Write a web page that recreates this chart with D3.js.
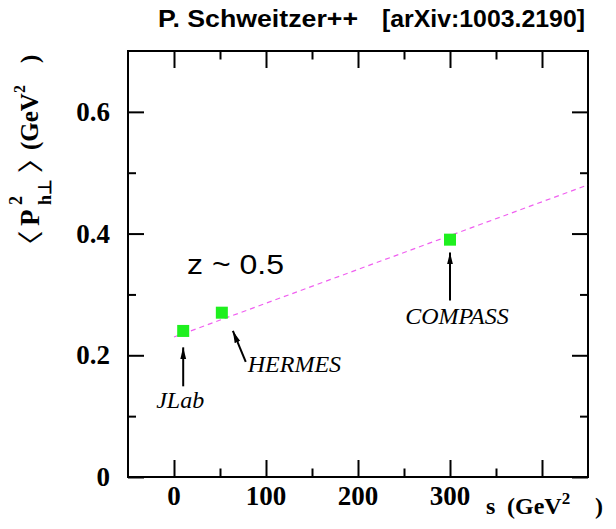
<!DOCTYPE html>
<html>
<head>
<meta charset="utf-8">
<script src="https://cdn.jsdelivr.net/npm/d3@7"></script>
<style>
  body { margin: 0; background: #fff; }
  svg { display: block; }
</style>
</head>
<body>
<svg id="chart" width="616" height="529"></svg>
<script>
// Mean hadron transverse momentum squared vs. centre-of-mass energy squared
const experiments = ["JLab", "HERMES", "COMPASS"];
const sValues = [10, 52, 300];          // s (GeV^2)
const ptValues = [0.24, 0.27, 0.39];    // <P_hT^2> (GeV^2)

// straight-line trend through the three points
const fitS = [0, 450];
const fitPt = [0.23, 0.48];

// axis ticks
const xMajorTicks = [0, 100, 200, 300, 400];
const xMinorTicks = [50, 150, 250, 350];
const xTickLabels = [0, 100, 200, 300];
const yMajorTicks = [0, 0.2, 0.4, 0.6];
const yMinorTicks = [0.1, 0.3, 0.5];
const yTickLabels = ["0", "0.2", "0.4", "0.6"];

// arrow annotations in data units: tail -> tip
const arrowTail = [[10, 0.149], [78, 0.189], [300, 0.290]];
const arrowTip  = [[10, 0.213], [64, 0.240], [300, 0.369]];

const svg = d3.select("#chart");
const frame = { left: 128, right: 588, top: 51, bottom: 477 };

const x = d3.scaleLinear().domain([-50, 450]).range([frame.left, frame.right]);
const y = d3.scaleLinear().domain([0, 0.7]).range([frame.bottom, frame.top]);

const serif = "'Liberation Serif', 'Times New Roman', serif";
const sans = "'Liberation Sans', Arial, Helvetica, sans-serif";

// ---- tick marks on all four sides (pointing inward) ----
function tickAxis(axis, transform) {
  const g = svg.append("g").attr("transform", transform).call(axis);
  g.select(".domain").remove();
  g.selectAll(".tick line").attr("stroke", "#000").attr("stroke-width", 2);
  g.selectAll(".tick text").remove();
  return g;
}
tickAxis(d3.axisBottom(x).tickValues(xMajorTicks).tickSize(-17), `translate(0,${frame.bottom})`);
tickAxis(d3.axisBottom(x).tickValues(xMinorTicks).tickSize(-8.5), `translate(0,${frame.bottom})`);
tickAxis(d3.axisTop(x).tickValues(xMajorTicks).tickSize(-17), `translate(0,${frame.top})`);
tickAxis(d3.axisTop(x).tickValues(xMinorTicks).tickSize(-8.5), `translate(0,${frame.top})`);
tickAxis(d3.axisLeft(y).tickValues(yMajorTicks).tickSize(-16), `translate(${frame.left},0)`);
tickAxis(d3.axisLeft(y).tickValues(yMinorTicks).tickSize(-8), `translate(${frame.left},0)`);
tickAxis(d3.axisRight(y).tickValues(yMajorTicks).tickSize(-16), `translate(${frame.right},0)`);
tickAxis(d3.axisRight(y).tickValues(yMinorTicks).tickSize(-8), `translate(${frame.right},0)`);

// ---- frame ----
svg.append("rect")
  .attr("x", frame.left).attr("y", frame.top)
  .attr("width", frame.right - frame.left).attr("height", frame.bottom - frame.top)
  .attr("fill", "none").attr("stroke", "#000").attr("stroke-width", 2);

// ---- tick labels ----
svg.append("g").selectAll("text")
  .data(xTickLabels).join("text")
  .attr("x", d => x(d)).attr("y", 505)
  .attr("text-anchor", "middle")
  .attr("font-family", serif).attr("font-weight", "bold").attr("font-size", 27)
  .text(d => d);

svg.append("g").selectAll("text")
  .data(yMajorTicks).join("text")
  .attr("x", 110).attr("y", d => y(d) + 9)
  .attr("text-anchor", "end")
  .attr("font-family", serif).attr("font-weight", "bold").attr("font-size", 27)
  .text((d, i) => yTickLabels[i]);

// ---- x axis title ----
const xt = svg.append("text")
  .attr("font-family", serif).attr("font-weight", "bold").attr("font-size", 24)
  .attr("y", 514);
xt.append("tspan").attr("x", 486).text("s");
xt.append("tspan").attr("x", 507).text("(GeV");
xt.append("tspan").attr("dy", -10).attr("font-size", 17).text("2");
xt.append("tspan").attr("x", 595).attr("dy", 10).text(")");

// ---- y axis title (reads bottom to top) ----
const yt = svg.append("text")
  .attr("transform", "rotate(-90)")
  .attr("font-family", serif).attr("font-weight", "bold");
yt.append("tspan").attr("x", -226).attr("y", 38.5).attr("font-size", 27).text("P");
yt.append("tspan").attr("x", -205).attr("y", 22).attr("font-size", 18).text("2");
yt.append("tspan").attr("x", -205).attr("y", 51).attr("font-size", 18).text("h\u22A5");
yt.append("tspan").attr("x", -150).attr("y", 38).attr("font-size", 25).text("(GeV");
yt.append("tspan").attr("y", 25).attr("font-size", 16).text("2");
yt.append("tspan").attr("x", -63).attr("y", 38).attr("font-size", 25).text(")");

// angle brackets, widened along the reading direction and kept thin
[["\u27E8", 237], ["\u27E9", 166]].forEach(([ch, cy]) => {
  svg.append("text")
    .attr("transform", `translate(28,${cy}) rotate(-90) scale(2.3,1)`)
    .attr("text-anchor", "middle")
    .attr("dy", "0.38em")
    .attr("font-family", "'DejaVu Sans', sans-serif")
    .attr("font-weight", 200)
    .attr("font-size", 28)
    .attr("fill", "#000")
    .attr("stroke", "#fff")
    .attr("stroke-width", 1.1)
    .text(ch);
});

// ---- title ----
svg.append("text")
  .attr("x", 158).attr("y", 27)
  .attr("font-family", sans).attr("font-weight", "bold").attr("font-size", 23)
  .attr("textLength", 200).attr("lengthAdjust", "spacingAndGlyphs")
  .text("P. Schweitzer++");
svg.append("text")
  .attr("x", 382).attr("y", 27)
  .attr("font-family", sans).attr("font-weight", "bold").attr("font-size", 23)
  .attr("textLength", 203).attr("lengthAdjust", "spacingAndGlyphs")
  .text("[arXiv:1003.2190]");

// ---- kinematic note ----
svg.append("text")
  .attr("x", 187).attr("y", 274)
  .attr("font-family", sans).attr("font-size", 28)
  .attr("textLength", 97).attr("lengthAdjust", "spacingAndGlyphs")
  .text("z ~ 0.5");

// ---- trend line ----
const line = d3.line().x(d => x(d[0])).y(d => y(d[1]));
svg.append("path")
  .datum(d3.zip(fitS, fitPt))
  .attr("d", line)
  .attr("fill", "none")
  .attr("stroke", "#f060f0")
  .attr("stroke-width", 1.2)
  .attr("stroke-dasharray", "5,4");

// ---- data markers ----
const mk = 12;
svg.append("g").selectAll("rect")
  .data(d3.zip(sValues, ptValues)).join("rect")
  .attr("x", d => x(d[0]) - mk / 2)
  .attr("y", d => y(d[1]) - mk / 2)
  .attr("width", mk).attr("height", mk)
  .attr("fill", "#1ef01e");

// ---- arrows ----
svg.append("defs").append("marker")
  .attr("id", "head")
  .attr("viewBox", "0 0 12 8")
  .attr("refX", 12).attr("refY", 4)
  .attr("markerWidth", 12).attr("markerHeight", 8)
  .attr("markerUnits", "userSpaceOnUse")
  .attr("orient", "auto")
  .append("path").attr("d", "M0,1 L12,4 L0,7 Z").attr("fill", "#000");

svg.append("g").selectAll("line")
  .data(d3.range(experiments.length)).join("line")
  .attr("x1", i => x(arrowTail[i][0])).attr("y1", i => y(arrowTail[i][1]))
  .attr("x2", i => x(arrowTip[i][0])).attr("y2", i => y(arrowTip[i][1]))
  .attr("stroke", "#000").attr("stroke-width", 2)
  .attr("marker-end", "url(#head)");

// ---- experiment labels placed at the arrow tails ----
const labelOffset = [
  { dx: -3, dy: 22, anchor: "middle" },
  { dx: 2, dy: 10, anchor: "start" },
  { dx: 7, dy: 23, anchor: "middle" }
];
svg.append("g").selectAll("text")
  .data(d3.range(experiments.length)).join("text")
  .attr("x", i => x(arrowTail[i][0]) + labelOffset[i].dx)
  .attr("y", i => y(arrowTail[i][1]) + labelOffset[i].dy)
  .attr("text-anchor", i => labelOffset[i].anchor)
  .attr("font-family", serif).attr("font-style", "italic").attr("font-size", 24)
  .text(i => experiments[i]);
</script>
</body>
</html>
